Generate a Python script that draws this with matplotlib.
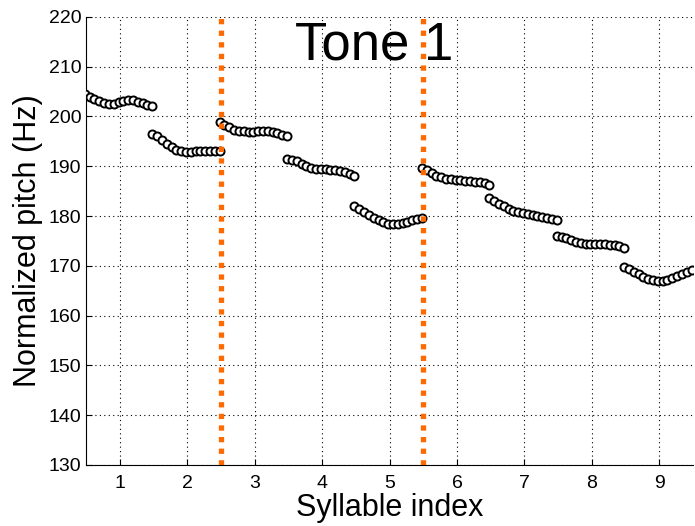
#!/usr/bin/env python3
import numpy as np
import matplotlib.pyplot as plt

plt.rcParams["font.family"] = ["Liberation Sans", "DejaVu Sans"]

# pitch contour per syllable (15 samples each), Hz
syl1 = [204.5, 204.0, 203.5, 203.0, 202.6, 202.5, 202.5, 202.8, 203.1, 203.3, 203.2, 202.9, 202.6, 202.3, 202.1]
syl2 = [196.5, 196.0, 195.3, 194.5, 193.8, 193.3, 193.0, 192.9, 192.9, 193.0, 193.0, 193.0, 193.0, 193.0, 193.0]
syl3 = [198.8, 198.3, 197.8, 197.3, 197.0, 197.0, 196.9, 196.9, 197.0, 197.0, 197.0, 196.9, 196.6, 196.3, 196.0]
syl4 = [191.5, 191.3, 191.0, 190.5, 190.0, 189.7, 189.5, 189.4, 189.4, 189.3, 189.2, 189.0, 188.8, 188.4, 188.0]
syl5 = [182.0, 181.5, 180.8, 180.2, 179.6, 179.1, 178.7, 178.4, 178.3, 178.3, 178.5, 178.8, 179.1, 179.4, 179.6]
syl6 = [189.6, 189.2, 188.6, 188.1, 187.8, 187.5, 187.4, 187.3, 187.2, 187.1, 187.0, 186.9, 186.8, 186.6, 186.3]
syl7 = [183.6, 183.1, 182.5, 182.0, 181.5, 181.1, 180.8, 180.6, 180.4, 180.2, 180.0, 179.8, 179.6, 179.4, 179.1]
syl8 = [176.0, 175.8, 175.5, 175.1, 174.8, 174.6, 174.4, 174.3, 174.3, 174.3, 174.3, 174.2, 174.1, 173.9, 173.6]
syl9 = [169.7, 169.3, 168.8, 168.3, 167.8, 167.4, 167.1, 167.0, 167.0, 167.2, 167.5, 167.9, 168.3, 168.7, 169.1]
syllables = [syl1, syl2, syl3, syl4, syl5, syl6, syl7, syl8, syl9]
boundaries = [2.5, 5.5]
title = "Tone 1"


def main():
    fig = plt.figure(figsize=(6.95, 5.26), dpi=100)
    ax = fig.add_axes([0.124, 0.116, 0.873, 0.852])

    for i, vals in enumerate(syllables):
        idx = i + 1
        x = np.linspace(idx - 0.52, idx + 0.48, len(vals))
        ax.plot(x, vals, linestyle="none", marker="o", markersize=5.8,
                markerfacecolor="white", markeredgecolor="black", markeredgewidth=1.4,
                zorder=3)

    for b in boundaries:
        ax.axvline(b, color="#ff6a00", linewidth=3.8, linestyle=(0, (1, 1.2)), zorder=5)

    ax.set_xlim(0.5, 9.5)
    ax.set_ylim(130, 220)
    ax.set_xticks(range(1, 10))
    ax.set_yticks(range(130, 221, 10))
    ax.grid(True, color="black", linestyle=(0, (1, 3)), linewidth=0.8)
    ax.set_axisbelow(True)
    ax.spines["top"].set_visible(False)
    ax.spines["right"].set_visible(False)
    ax.tick_params(direction="in", labelsize=14, length=4)
    ax.tick_params(axis="x", pad=7)
    ax.set_xlabel("Syllable index", fontsize=22, labelpad=1)
    ax.set_ylabel("Normalized pitch (Hz)", fontsize=22, labelpad=4)
    ax.text(0.4745, 0.935, title, transform=ax.transAxes, ha="center", va="center",
            fontsize=38, zorder=4)

    fig.savefig("out.png", dpi=100)
    plt.close(fig)


if __name__ == "__main__":
    main()
